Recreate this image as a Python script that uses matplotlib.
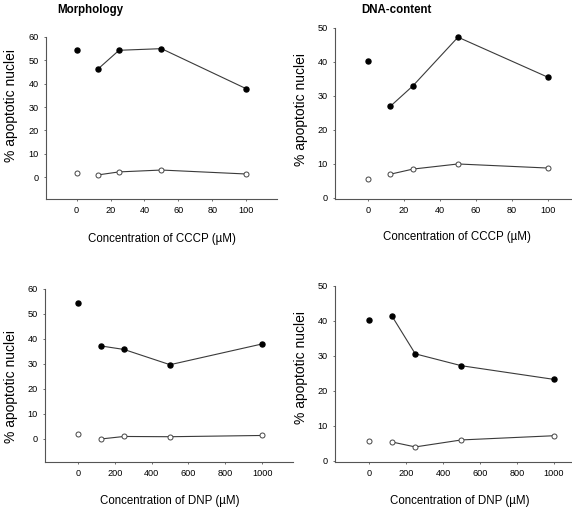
import matplotlib
matplotlib.use('Agg')
import matplotlib.pyplot as plt

plt.rcParams['font.family'] = ['Liberation Sans', 'DejaVu Sans']

# CCCP concentrations (uM) and % apoptotic nuclei
CCCP_CONC = [0, 12.5, 25, 50, 100]
CCCP_MORPH_TREATED = [54.3, 46.2, 54.3, 55.0, 37.8]
CCCP_MORPH_CONTROL = [1.8, 0.9, 2.2, 3.0, 1.3]
CCCP_DNA_TREATED = [40.2, 27.0, 33.0, 47.3, 35.5]
CCCP_DNA_CONTROL = [5.7, 7.0, 8.5, 10.0, 8.8]

# DNP concentrations (uM) and % apoptotic nuclei
DNP_CONC = [0, 125, 250, 500, 1000]
DNP_MORPH_TREATED = [54.3, 37.2, 35.8, 29.7, 38.0]
DNP_MORPH_CONTROL = [1.9, 0.0, 1.0, 0.9, 1.4]
DNP_DNA_TREATED = [40.2, 41.3, 30.6, 27.2, 23.3]
DNP_DNA_CONTROL = [5.8, 5.4, 4.0, 6.0, 7.2]

CCCP_TICKS = [0, 20, 40, 60, 80, 100]
DNP_TICKS = [0, 200, 400, 600, 800, 1000]
MORPH_YTICKS = [0, 10, 20, 30, 40, 50, 60]
DNA_YTICKS = [0, 10, 20, 30, 40, 50]

LINE_COLOR = '#3a3a3a'
SPINE_COLOR = '#555555'


def draw_panel(fig, rect, x, treated, control, xticks, yticks, xlim, ylim,
               xlabel, xlab_pos, ylab_pos):
    """Draw one panel; the 0 point is shown but not joined to the curve."""
    ax = fig.add_axes(rect)

    ax.plot(x[1:], treated[1:], color=LINE_COLOR, lw=0.8, zorder=1)
    ax.plot(x[1:], control[1:], color=LINE_COLOR, lw=0.8, zorder=1)
    ax.scatter(x, treated, s=13, color='black', zorder=3)
    ax.scatter(x, control, s=13, facecolor='white', edgecolor='#444444',
               linewidth=0.7, zorder=3)

    ax.set_xlim(*xlim)
    ax.set_ylim(*ylim)
    ax.set_xticks(xticks)
    ax.set_yticks(yticks)
    ax.tick_params(length=1.6, width=0.6, color=SPINE_COLOR,
                   labelsize=6.6, pad=3.5)

    ax.spines['top'].set_visible(False)
    ax.spines['right'].set_visible(False)
    for side in ('left', 'bottom'):
        ax.spines[side].set_color(SPINE_COLOR)
        ax.spines[side].set_linewidth(0.8)
    ax.spines['left'].set_bounds(ylim[0], yticks[-1])

    ax.set_xlabel(xlabel, fontsize=8.3)
    ax.xaxis.set_label_coords(*xlab_pos)
    ax.set_ylabel('% apoptotic nuclei', fontsize=10)
    ax.yaxis.set_label_coords(*ylab_pos)
    return ax


fig = plt.figure(figsize=(5.72, 5.08), dpi=100)

draw_panel(fig, [0.0804, 0.6083, 0.4038, 0.3189],
           CCCP_CONC, CCCP_MORPH_TREATED, CCCP_MORPH_CONTROL,
           CCCP_TICKS, MORPH_YTICKS, (-18, 118), (-9.4, 60),
           'Concentration of CCCP (µM)', (0.50, -0.21), (-0.121, 0.574))

draw_panel(fig, [0.5857, 0.6083, 0.4196, 0.3366],
           CCCP_CONC, CCCP_DNA_TREATED, CCCP_DNA_CONTROL,
           CCCP_TICKS, DNA_YTICKS, (-18.3, 115), (-0.3, 50),
           'Concentration of CCCP (µM)', (0.51, -0.187), (-0.1125, 0.526))

draw_panel(fig, [0.0787, 0.0906, 0.4336, 0.3406],
           DNP_CONC, DNP_MORPH_TREATED, DNP_MORPH_CONTROL,
           DNP_TICKS, MORPH_YTICKS, (-179, 1168), (-9.2, 60),
           'Concentration of DNP (µM)', (0.504, -0.19), (-0.109, 0.434))

draw_panel(fig, [0.5857, 0.0906, 0.4196, 0.3465],
           DNP_CONC, DNP_DNA_TREATED, DNP_DNA_CONTROL,
           DNP_TICKS, DNA_YTICKS, (-184, 1114), (-0.3, 50),
           'Concentration of DNP (µM)', (0.52, -0.19), (-0.1125, 0.534))

fig.text(57 / 572, 1 - 10 / 508, 'Morphology', fontsize=8.3,
         fontweight='bold', va='center', ha='left')
fig.text(361 / 572, 1 - 10 / 508, 'DNA-content', fontsize=8.3,
         fontweight='bold', va='center', ha='left')

fig.savefig('out.png', dpi=100, facecolor='white')
